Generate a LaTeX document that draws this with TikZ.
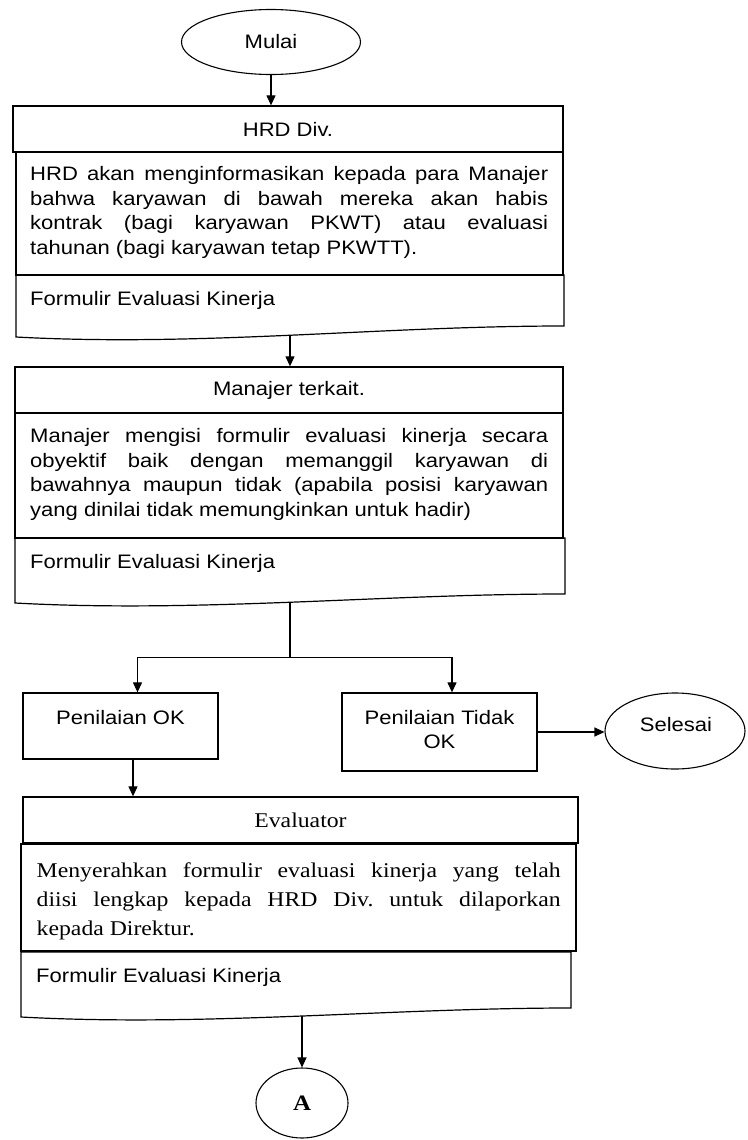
\documentclass[tikz,border=0pt]{standalone}
\usepackage{fontspec}
\setmainfont{Liberation Serif}[FakeStretch=1.13]
\newfontfamily\arialf{Liberation Sans}[FakeStretch=1.13]
\newfontfamily\tnrf{Liberation Serif}[FakeStretch=1.13]
\usetikzlibrary{shapes.geometric,arrows.meta}
\frenchspacing
\newcommand\JLs[1]{\makebox[518pt][s]{#1}}
\newcommand\JLt[1]{\makebox[524pt][s]{#1}}
\tikzset{
  box/.style={draw=black, line width=1.3pt, rectangle, inner sep=0pt},
  term/.style={draw=black, ellipse, line width=1.1pt, inner sep=0pt},
  arr/.style={-{Triangle[length=10pt,width=9pt]}, line width=1.2pt},
  ln/.style={line width=1.2pt},
  sf/.style={font=\arialf\fontsize{19.5}{24.5}\selectfont},
  rm/.style={font=\tnrf\fontsize{21}{29}\selectfont},
  para/.style={anchor=north west, inner sep=0pt, align=left},
  lbl/.style={inner sep=0pt},
}
\begin{document}
\begin{tikzpicture}[x=1pt,y=-1pt]
\fill[white] (0,0) rectangle (747,1140);
\useasboundingbox (0,0) rectangle (747,1140);

% Start
\node[term, sf, minimum width=179pt, minimum height=65pt] (mulai) at (271,42) {Mulai};

% HRD
\node[box, sf, minimum width=550pt, minimum height=46pt] (hrdT) at (288,129) {HRD Div.};
\node[box, minimum width=547pt, minimum height=123pt] (hrdD) at (289.5,213.5) {};
\node[para, sf] (hrdDtext) at (30,166.5) {\JLs{HRD akan menginformasikan kepada para Manajer}\\
\JLs{bahwa karyawan di bawah mereka akan habis}\\
\JLs{kontrak (bagi karyawan PKWT) atau evaluasi}\\
tahunan (bagi karyawan tetap PKWTT).};
\draw[ln] (16,275) -- (564,275) -- (564,326) .. controls (380,326) and (200,347) .. (16,337) coordinate[pos=0.5] (d1m) -- cycle;
\node[sf, lbl, anchor=base west] (hrdF) at (30,305) {Formulir Evaluasi Kinerja};

% Manajer
\node[box, sf, minimum width=548pt, minimum height=46pt] (mgrT) at (289,390) {Manajer terkait.};
\node[box, minimum width=548pt, minimum height=125pt] (mgrD) at (289,475.5) {};
\node[para, sf] (mgrDtext) at (30,428.5) {\JLs{Manajer mengisi formulir evaluasi kinerja secara}\\
\JLs{obyektif baik dengan memanggil karyawan di}\\
\JLs{bawahnya maupun tidak (apabila posisi karyawan}\\
yang dinilai tidak memungkinkan untuk hadir)};
\draw[ln] (15,538) -- (565,538) -- (565,594) .. controls (381,594) and (199,613) .. (15,603) coordinate[pos=0.5] (d2m) -- cycle;
\node[sf, lbl, anchor=base west] (mgrF) at (30,568) {Formulir Evaluasi Kinerja};

% connectors top
\draw[arr] (mulai.south) -- (mulai.south |- hrdT.north);
\draw[arr] (d1m) -- (d1m |- mgrT.north);

% branch
\path (d2m) ++(0,55) coordinate (j);
\node[box, minimum width=195pt, minimum height=66pt] (ok) at (120.5,726) {};
\node[box, minimum width=195pt, minimum height=78pt] (tidak) at (439.5,732) {};
\coordinate (okN) at ([xshift=17pt]ok.north);
\coordinate (tidakN) at ([xshift=12.5pt]tidak.north);
\draw[ln] (d2m) -- (j);
\draw[arr] (j) -| (okN);
\draw[arr] (j) -| (tidakN);
\node[sf, lbl, anchor=base] (okT) at (120.5,724) {Penilaian OK};
\node[sf, lbl, anchor=north, align=center] (tidakT) at (439.5,710) {Penilaian Tidak\\OK};

\node[term, minimum width=140pt, minimum height=76pt] (selesai) at (675,731) {};
\node[sf, lbl] (selesaiT) at (676,725) {Selesai};
\draw[arr] (tidak.east) -- (tidak.east -| selesai.west);

% Evaluator
\node[box, rm, minimum width=555pt, minimum height=46pt] (evalT) at (300.5,820) {Evaluator};
\node[box, minimum width=555pt, minimum height=107pt] (evalD) at (298.5,897.5) {};
\node[para, rm] (evalDtext) at (36.5,862.4) {\JLt{Menyerahkan formulir evaluasi kinerja yang telah}\\
\JLt{diisi lengkap kepada HRD Div. untuk dilaporkan}\\
kepada Direktur.};
\draw[ln] (21,952) -- (571,952) -- (571,1008) .. controls (387,1008) and (205,1027) .. (21,1017) coordinate[pos=0.5] (d3m) -- cycle;
\node[sf, lbl, anchor=base west] (evalF) at (36,982) {Formulir Evaluasi Kinerja};

\coordinate (okS) at ([xshift=12.5pt]ok.south);
\draw[arr] (okS) -- (okS |- evalT.north);

% connector A
\node[term, minimum width=92pt, minimum height=70pt, font=\tnrf\bfseries\fontsize{22}{26}\selectfont] (A) at (302,1103) {A};
\draw[arr] (d3m -| A) -- (A.north);
\end{tikzpicture}
\end{document}
